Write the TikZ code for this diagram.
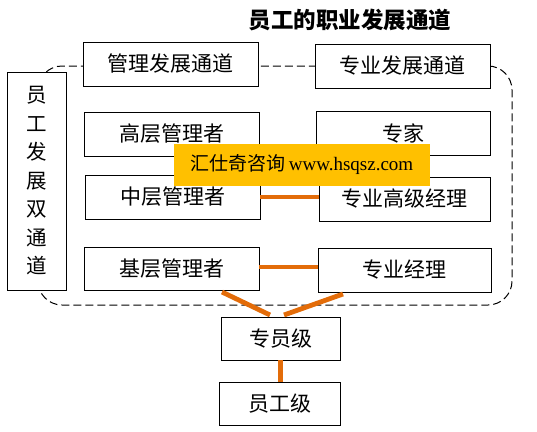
\documentclass[tikz,border=0pt]{standalone}
\usepackage{fontspec}
\newfontfamily\cjk{Noto Sans CJK SC}
\newfontfamily\latinserif{Liberation Serif}
\definecolor{lineorange}{HTML}{E36C09}
\definecolor{wmfill}{HTML}{FFC000}
\begin{document}
\begin{tikzpicture}[x=1pt,y=-1pt,
  box/.style={draw=black,line width=0.8pt,fill=white,inner sep=0pt,
    minimum width=175pt,minimum height=44pt,font=\cjk\fontsize{21}{24}\selectfont},
  link/.style={draw=lineorange,line width=4.8pt},
  dashframe/.style={draw=black,line width=1pt,dash pattern=on 8pt off 4pt,rounded corners=24pt}]
\useasboundingbox (0,0) rectangle (537,431);
\node[font=\cjk\bfseries\fontsize{22.5}{24}\selectfont] (title) at (350,20) {员工的职业发展通道};
\coordinate (frameTL) at (38,66);
\coordinate (frameBR) at (512,305);
\draw[dashframe] (frameTL) rectangle (frameBR);
\node[box] (glfz) at (170.5,64) {管理发展通道};
\node[box] (zyfz) at (402.5,66) {专业发展通道};
\node[box,minimum width=59pt,minimum height=218pt,align=center,
  font=\cjk\fontsize{20.5}{28.5}\selectfont] (left) at (36.5,181) {员\\工\\发\\展\\双\\通\\道};
\node[box] (gaoceng) at (171.5,134) {高层管理者};
\node[box,minimum width=174pt] (zhuanjia) at (403,133) {专家};
\node[box] (zhongceng) at (172.5,197) {中层管理者};
\node[box,minimum width=171pt] (zygj) at (404.5,199) {专业高级经理};
\node[box,minimum height=43pt] (jiceng) at (171.5,268.5) {基层管理者};
\node[box,minimum width=173pt] (zyjl) at (404.5,270) {专业经理};
\node[box,minimum width=119pt,minimum height=43pt] (zhuanyuan) at (280.5,338.5) {专员级};
\node[box,minimum width=121pt,minimum height=43pt] (yuangong) at (279.5,403.5) {员工级};
\draw[link] (zhongceng.east) -- (zhongceng.east -| zygj.west);
\draw[link] (jiceng.east) ++(0,-1.5) coordinate (jr) (jr) -- (jr -| zyjl.west);
\coordinate (a1) at (222,292);
\coordinate (a2) at (270,315);
\coordinate (b1) at (343,294);
\coordinate (b2) at (284,315);
\draw[link] (a1) -- (a2);
\draw[link] (b1) -- (b2);
\draw[link] (zhuanyuan.south) -- (zhuanyuan.south |- yuangong.north);
\node[fill=wmfill,minimum width=256pt,minimum height=42pt,inner sep=0pt,
  font=\fontsize{19}{22}\selectfont] (wm) at (302,165) {{\cjk 汇仕奇咨询}\,{\latinserif www.hsqsz.com}};
\end{tikzpicture}
\end{document}
